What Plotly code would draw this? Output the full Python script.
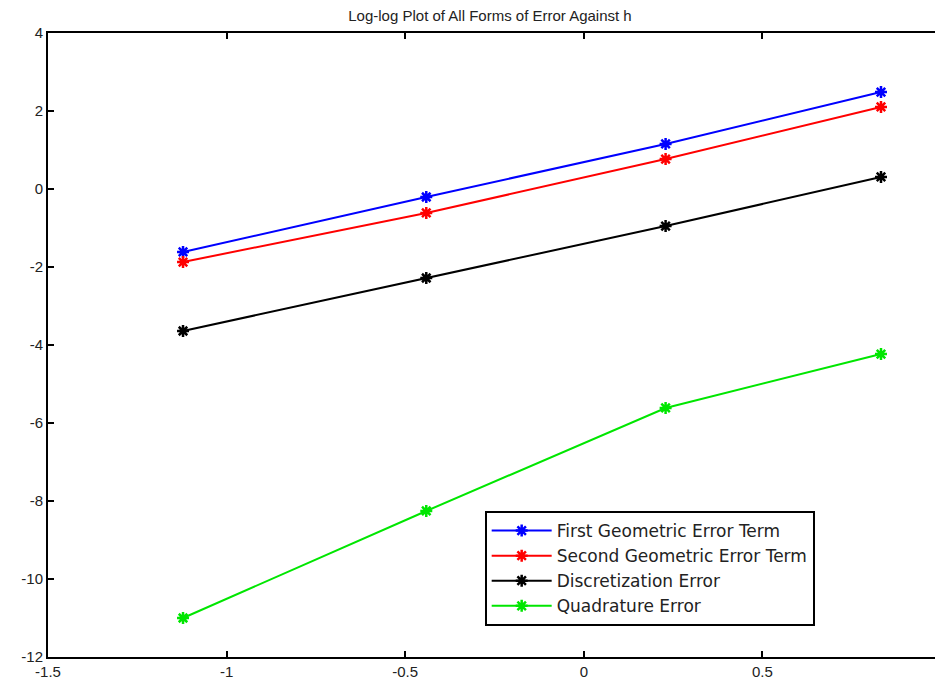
import plotly.graph_objects as go

log_h = [-1.122, -0.441, 0.229, 0.832]
first_geom = [-1.615, -0.205, 1.154, 2.487]
second_geom = [-1.872, -0.615, 0.769, 2.103]
discretization = [-3.641, -2.282, -0.949, 0.308]
quadrature = [-11.0, -8.256, -5.615, -4.231]

series = [
    ("First Geometric Error Term", first_geom, "#0000ff"),
    ("Second Geometric Error Term", second_geom, "#ff0000"),
    ("Discretization Error", discretization, "#000000"),
    ("Quadrature Error", quadrature, "#00e600"),
]

x_ticks = [-1.5, -1, -0.5, 0, 0.5, 1]
x_tick_labels = ["-1.5", "-1", "-0.5", "0", "0.5", "1"]
y_ticks = [4, 2, 0, -2, -4, -6, -8, -10, -12]
y_tick_labels = ["4", "2", "0", "-2", "-4", "-6", "-8", "-10", "-12"]

fig = go.Figure()
for name, vals, color in series:
    fig.add_trace(go.Scatter(
        x=log_h, y=vals, name=name, mode="lines+markers",
        line=dict(color=color, width=2),
        marker=dict(symbol="asterisk-open", size=10, color=color,
                    line=dict(color=color, width=2.5)),
    ))

axis_common = dict(
    showgrid=False, zeroline=False, showline=True, linecolor="black",
    linewidth=2, mirror="ticks", ticks="inside", ticklen=6, tickwidth=2,
    tickcolor="black", automargin=False,
    tickfont=dict(family="Liberation Sans, Arial", size=15, color="#222"),
)

# page body has an 8px margin; the figure is sized/offset to compensate
fig.update_layout(
    width=935, height=677,
    margin=dict(l=40, r=2, t=25, b=28),
    paper_bgcolor="white", plot_bgcolor="white",
    title=dict(text="Log-log Plot of All Forms of Error Against h",
               x=0.5155, xanchor="center", y=0.9885, yanchor="middle",
               font=dict(family="Liberation Sans, Arial", size=15, color="#222")),
    xaxis=dict(range=[-1.5, 1], tickvals=x_ticks, ticktext=x_tick_labels, **axis_common),
    yaxis=dict(range=[-12, 4], tickvals=y_ticks, ticktext=y_tick_labels, **axis_common),
    legend=dict(x=0.489, y=0.234, xanchor="left", yanchor="top",
                bgcolor="white", bordercolor="black", borderwidth=2,
                font=dict(family="DejaVu Sans", size=17, color="#222"),
                tracegroupgap=0, itemwidth=60),
    showlegend=True,
)

fig.write_html("out.html")
